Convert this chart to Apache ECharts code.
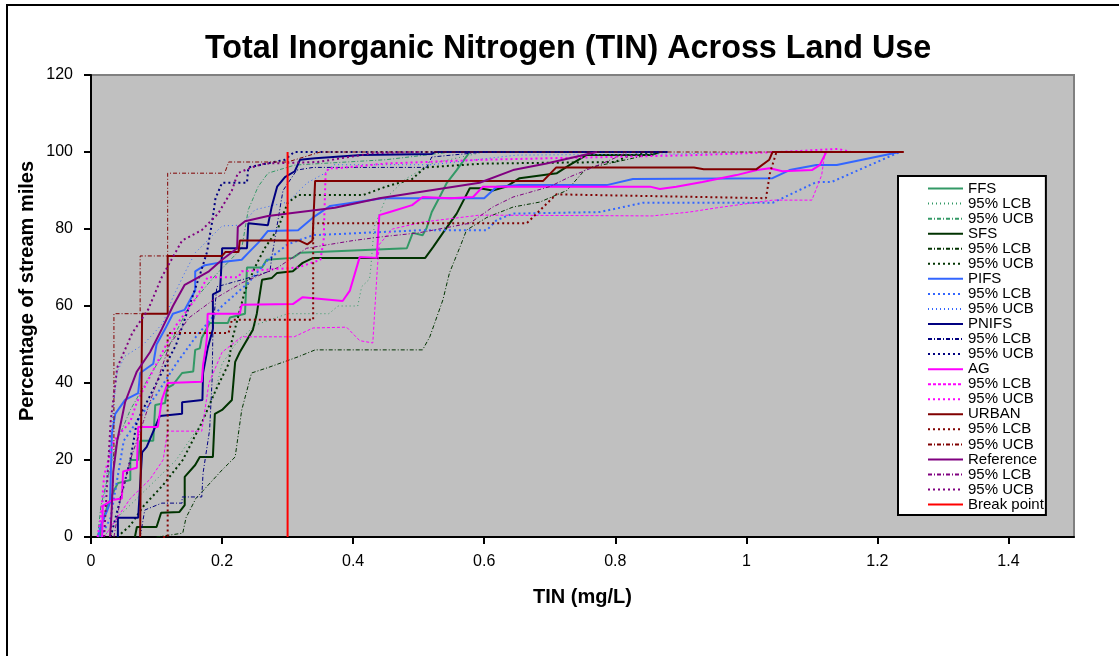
<!DOCTYPE html>
<html>
<head>
<meta charset="utf-8">
<script src="https://cdn.jsdelivr.net/npm/echarts@6/dist/echarts.min.js"></script>
<style>
html, body { margin: 0; padding: 0; background: #fff; }
#chart { width: 1119px; height: 656px; }
</style>
</head>
<body>
<div id="chart"></div>
<script>
// tick labels
const xTicks = [0, 0.2, 0.4, 0.6, 0.8, 1, 1.2, 1.4];
const yTicks = [0, 20, 40, 60, 80, 100, 120];

// CDF curves: [TIN mg/L, % of stream miles]
const ffs = [[0.014,0],[0.016,3],[0.025,8],[0.035,12],[0.041,14],[0.06,14.8],[0.06,20],[0.072,20],[0.075,25],[0.095,25],[0.098,34.3],[0.113,34.8],[0.116,38.7],[0.125,39.5],[0.139,42.6],[0.156,43],[0.159,48.6],[0.166,49],[0.169,51.7],[0.181,55.6],[0.209,55.6],[0.212,57],[0.235,58],[0.238,70],[0.261,70],[0.268,72],[0.308,72.5],[0.319,73.8],[0.482,75],[0.491,79],[0.506,78.4],[0.512,80.2],[0.52,84.4],[0.532,88.3],[0.543,92],[0.558,95.3],[0.578,100]];
const ffsLcb = [[0.02,0],[0.04,5],[0.07,10],[0.1,15],[0.13,20],[0.15,25],[0.17,30],[0.19,38],[0.2,45],[0.22,50],[0.25,55],[0.3,58],[0.363,58],[0.377,60],[0.407,60],[0.413,65],[0.425,67],[0.427,70],[0.432,80.5],[0.45,88],[0.48,93],[0.52,97],[0.6,100]];
const ffsUcb = [[0.01,0],[0.015,8],[0.025,15],[0.04,25],[0.06,33],[0.09,42],[0.12,50],[0.15,60],[0.19,68],[0.23,75],[0.24,85],[0.255,91],[0.27,94.5],[0.311,96.6],[0.35,97],[0.45,98],[0.5,99],[0.55,100]];

const sfs = [[0.067,0],[0.07,2.6],[0.1,2.6],[0.107,6.3],[0.135,6.5],[0.143,8.3],[0.143,15.6],[0.159,18.7],[0.166,20.8],[0.186,20.8],[0.189,32],[0.2,33],[0.215,35.6],[0.22,45.5],[0.227,48],[0.247,53.8],[0.253,58],[0.261,66.8],[0.276,67.3],[0.284,68.6],[0.308,69],[0.323,71.2],[0.339,72.5],[0.51,72.5],[0.522,75.3],[0.537,79],[0.558,84],[0.578,90.6],[0.593,90.6],[0.613,90],[0.634,91],[0.654,93.2],[0.711,94.5],[0.73,96.6],[0.756,99.2],[0.855,99.2],[0.868,100]];
const sfsLcb = [[0.1,0],[0.14,1],[0.145,5],[0.16,10],[0.2,17.4],[0.22,20.8],[0.23,33],[0.245,42.6],[0.27,44],[0.316,46.8],[0.342,48.6],[0.506,48.6],[0.517,52],[0.537,61.6],[0.547,68.6],[0.563,75.3],[0.573,79.7],[0.604,83],[0.644,85.7],[0.685,87],[0.726,90],[0.756,95.8],[0.79,97],[0.87,100]];
const sfsUcb = [[0.04,0],[0.06,3],[0.08,8],[0.11,13.5],[0.14,20],[0.17,30],[0.19,38],[0.21,45],[0.215,51],[0.235,64],[0.25,70],[0.265,75],[0.285,80],[0.3,86.8],[0.316,88.8],[0.415,88.8],[0.45,91],[0.49,93],[0.51,96],[0.6,97],[0.8,97.4],[0.82,99],[0.86,100]];

const pifs = [[0.011,0],[0.015,3],[0.025,7],[0.029,9],[0.032,27],[0.037,32],[0.052,35.6],[0.072,37.4],[0.075,42.6],[0.095,45],[0.1,50],[0.113,54],[0.125,58],[0.143,59],[0.159,64],[0.159,69],[0.174,70.6],[0.2,71.4],[0.23,72],[0.24,73.8],[0.255,76.4],[0.27,79.5],[0.316,79.7],[0.339,83],[0.365,86],[0.445,88],[0.6,88],[0.619,91],[0.654,91.4],[0.787,91.4],[0.827,93],[1.04,93.2],[1.066,95.3],[1.107,96.6],[1.138,96.6],[1.234,100]];
const pifsLcb = [[0.015,0],[0.03,5],[0.04,15],[0.05,25],[0.07,30],[0.1,37],[0.13,45],[0.16,52],[0.2,60],[0.24,66],[0.27,72],[0.3,76],[0.339,78.4],[0.506,79.7],[0.604,79.7],[0.619,82.3],[0.644,84],[0.776,84.4],[0.842,86.8],[1.04,86.8],[1.107,92.2],[1.13,92.2],[1.234,100]];
const pifsUcb = [[0.01,0],[0.02,10],[0.03,25],[0.035,35],[0.04,43],[0.052,47],[0.08,50],[0.11,55.6],[0.125,62.3],[0.143,68.6],[0.159,73.8],[0.2,80.8],[0.23,81],[0.25,85],[0.3,87],[0.33,92],[0.357,94.5],[0.37,96.7],[0.52,96.7],[0.65,99.2],[0.9,99.5],[1.0,100]];

const pnifs = [[0.041,0],[0.041,5],[0.072,5],[0.078,22],[0.085,23.4],[0.105,31.4],[0.139,32],[0.139,35],[0.17,35.6],[0.171,42.6],[0.178,49],[0.186,54],[0.186,63],[0.197,64],[0.2,74],[0.2,75],[0.238,75],[0.24,81.5],[0.27,81],[0.276,86],[0.284,91],[0.296,93.5],[0.311,95],[0.319,98],[0.342,98.4],[0.413,99.2],[0.52,99.5],[0.525,100],[0.88,100]];
const pnifsLcb = [[0.075,0],[0.082,7],[0.108,8.8],[0.139,8.8],[0.139,10.4],[0.169,10.4],[0.171,16.6],[0.181,27.8],[0.185,41.5],[0.186,54],[0.192,65],[0.23,66.8],[0.273,69],[0.276,72.7],[0.285,82],[0.293,90],[0.314,95.3],[0.339,96],[0.512,96],[0.52,98.7],[0.6,100],[0.88,100]];
const pnifsUcb = [[0.03,0],[0.045,10],[0.06,20],[0.07,30],[0.1,40],[0.13,50],[0.15,60],[0.166,68],[0.177,74],[0.185,82],[0.19,88],[0.2,92],[0.238,92],[0.24,96],[0.296,98],[0.31,100],[0.6,100]];

const ag = [[0.017,0],[0.018,8],[0.032,9.6],[0.047,10],[0.049,17],[0.07,18],[0.072,28.6],[0.102,28.6],[0.108,35.6],[0.117,40],[0.169,40.3],[0.171,44.7],[0.175,49],[0.177,52],[0.178,58],[0.227,58],[0.23,60.3],[0.308,60.5],[0.323,62.3],[0.384,61.3],[0.395,64],[0.41,72.7],[0.436,72.5],[0.44,83.6],[0.456,84.4],[0.49,86.2],[0.506,88.3],[0.548,88],[0.583,88.3],[0.598,91],[0.853,91],[0.868,90.4],[0.893,91],[0.933,92.2],[0.985,94],[1.016,95.3],[1.036,95.8],[1.055,95],[1.1,95.3],[1.112,96.6],[1.122,100],[1.125,100]];
const agLcb = [[0.02,0],[0.04,5],[0.06,10],[0.09,15],[0.11,20],[0.117,27.5],[0.169,27.5],[0.18,40],[0.2,48],[0.23,52],[0.31,52],[0.339,54.3],[0.39,54.5],[0.41,51],[0.43,50.4],[0.437,70],[0.44,76],[0.46,80],[0.506,81.8],[0.593,83.6],[0.857,83.4],[0.913,84.4],[0.955,85.5],[1.04,87.5],[1.1,87.5],[1.115,94],[1.12,100]];
const agUcb = [[0.01,0],[0.015,5],[0.02,16],[0.035,25],[0.06,30],[0.07,35],[0.1,45],[0.13,55],[0.16,62],[0.178,67.5],[0.225,67.5],[0.23,69],[0.316,70],[0.35,72],[0.355,77],[0.358,94.5],[0.363,95.8],[0.377,95.8],[0.45,97],[0.6,98],[0.924,99.2],[1.05,100],[1.14,100.8],[1.16,100]];

const urban = [[0.075,0],[0.078,58],[0.117,58],[0.117,73],[0.2,73],[0.205,74],[0.225,74],[0.227,77],[0.318,77],[0.33,76],[0.338,77],[0.342,92.5],[0.69,92.5],[0.71,96],[0.92,96],[0.935,95.5],[1.015,95.5],[1.035,98],[1.04,100],[1.24,100]];
const urbanLcb = [[0.11,0],[0.117,0],[0.117,53],[0.21,53],[0.215,56.4],[0.339,56.4],[0.339,81.5],[0.665,81.5],[0.71,89],[1.03,88],[1.036,94.5],[1.046,100],[1.24,100]];
const urbanUcb = [[0.03,0],[0.035,20],[0.035,58],[0.075,58],[0.075,73],[0.117,73],[0.117,94.5],[0.204,94.5],[0.21,97.4],[0.3,97.4],[0.35,100],[1.24,100]];

const reference = [[0.029,0],[0.031,5],[0.034,17],[0.04,25],[0.052,35],[0.07,43],[0.09,48],[0.108,54],[0.125,60],[0.143,65.5],[0.159,67],[0.18,69],[0.2,72],[0.223,75],[0.224,80.5],[0.235,82],[0.27,83.4],[0.372,85.5],[0.44,88],[0.593,92],[0.644,95.3],[0.695,97],[0.772,100]];
const refLcb = [[0.035,0],[0.045,10],[0.06,20],[0.08,30],[0.1,40],[0.12,50],[0.15,57],[0.19,62],[0.23,66],[0.285,70],[0.329,75],[0.4,77],[0.445,78],[0.5,79],[0.578,81.5],[0.613,85.7],[0.644,88.3],[0.7,91],[0.73,93.5],[0.78,97],[0.82,100]];
const refUcb = [[0.02,0],[0.025,15],[0.03,30],[0.04,44],[0.063,53],[0.087,59],[0.108,67.5],[0.139,77],[0.169,79.7],[0.194,84],[0.215,90],[0.224,94.5],[0.245,96],[0.265,97],[0.346,97.4],[0.43,99.7],[0.5,100]];

const breakPoint = [[0.3,0],[0.3,100]];

const font = '"Liberation Sans", Arial, sans-serif';

// line styles
const solid = { width: 2, type: 'solid' };
const thinDots = { width: 1, type: [1, 3] };
const dashDot = { width: 1, type: [4, 2, 1, 2] };
const squareDots = { width: 2, type: [2, 3] };
const thinDash = { width: 1, type: [3, 2] };

const groups = [
    { name: 'FFS', color: '#339966', main: ffs, lcb: ffsLcb, ucb: ffsUcb, lcbStyle: thinDots, ucbStyle: dashDot },
    { name: 'SFS', color: '#003300', main: sfs, lcb: sfsLcb, ucb: sfsUcb, lcbStyle: dashDot, ucbStyle: squareDots },
    { name: 'PIFS', color: '#3366FF', main: pifs, lcb: pifsLcb, ucb: pifsUcb, lcbStyle: squareDots, ucbStyle: thinDots },
    { name: 'PNIFS', color: '#000080', main: pnifs, lcb: pnifsLcb, ucb: pnifsUcb, lcbStyle: dashDot, ucbStyle: squareDots },
    { name: 'AG', color: '#FF00FF', main: ag, lcb: agLcb, ucb: agUcb, lcbStyle: thinDash, ucbStyle: squareDots },
    { name: 'URBAN', color: '#800000', main: urban, lcb: urbanLcb, ucb: urbanUcb, lcbStyle: squareDots, ucbStyle: dashDot },
    { name: 'Reference', color: '#800080', main: reference, lcb: refLcb, ucb: refUcb, lcbStyle: dashDot, ucbStyle: squareDots }
];

function lineSeries(name, data, color, style) {
    return {
        name: name,
        type: 'line',
        data: data,
        showSymbol: false,
        symbol: 'none',
        color: color,
        lineStyle: { color: color, width: style.width, type: style.type },
        emphasis: { disabled: true },
        z: 2
    };
}

const series = [];
groups.forEach(g => {
    series.push(lineSeries(g.name, g.main, g.color, solid));
    series.push(lineSeries(g.name + ' 95% LCB', g.lcb, g.color, g.lcbStyle));
    series.push(lineSeries(g.name + ' 95% UCB', g.ucb, g.color, g.ucbStyle));
});
series.push(lineSeries('Break point', breakPoint, '#FF0000', solid));

const chart = echarts.init(document.getElementById('chart'));

chart.setOption({
    animation: false,
    backgroundColor: '#fff',
    textStyle: { fontFamily: font },
    title: {
        text: 'Total Inorganic Nitrogen (TIN) Across Land Use',
        left: 205,
        top: 33,
        padding: 0,
        textStyle: { fontSize: 32.3, fontWeight: 'bold', color: '#000', fontFamily: font }
    },
    grid: {
        left: 91,
        top: 75,
        right: 45,
        bottom: 119,
        show: true,
        backgroundColor: '#C0C0C0',
        borderColor: '#808080',
        borderWidth: 2
    },
    legend: {
        orient: 'vertical',
        left: 898,
        top: 176,
        padding: [5, 2, 3, 29],
        itemGap: 0,
        itemWidth: 35,
        itemHeight: 8,
        backgroundColor: '#fff',
        borderColor: '#000',
        borderWidth: 2,
        borderRadius: 0,
        selectedMode: false,
        itemStyle: { opacity: 0 },
        textStyle: { fontSize: 15, lineHeight: 15.05, color: '#000', fontFamily: font },
        formatter: name => name.replace(/^\S+ (?=95%)/, ''),
        data: series.map(s => s.name)
    },
    xAxis: {
        type: 'value',
        min: 0,
        max: 1.5,
        interval: 0.2,
        name: 'TIN (mg/L)',
        nameLocation: 'middle',
        nameGap: 50,
        nameTextStyle: { fontSize: 20, fontWeight: 'bold', color: '#000', fontFamily: font },
        splitLine: { show: false },
        axisLine: { onZero: false, lineStyle: { color: '#000', width: 2 } },
        axisTick: { show: true, length: 7, inside: false, customValues: xTicks, lineStyle: { color: '#000', width: 2 } },
        axisLabel: { customValues: xTicks, fontSize: 16, color: '#000', margin: 17, fontFamily: font }
    },
    yAxis: {
        type: 'value',
        min: 0,
        max: 120,
        interval: 20,
        splitLine: { show: false },
        axisLine: { show: true, lineStyle: { color: '#000', width: 2 } },
        axisTick: { show: true, length: 7, inside: false, customValues: yTicks, lineStyle: { color: '#000', width: 2 } },
        axisLabel: { customValues: yTicks, fontSize: 16, color: '#000', margin: 18, fontFamily: font }
    },
    graphic: [
        {
            type: 'rect',
            shape: { x: 7, y: 5, width: 1300, height: 800 },
            style: { fill: 'none', stroke: '#000', lineWidth: 2 },
            silent: true,
            z: -10
        },
        {
            type: 'text',
            x: 27,
            y: 291,
            rotation: Math.PI / 2,
            style: {
                text: 'Percentage of stream miles',
                fontSize: 20,
                fontWeight: 'bold',
                fontFamily: font,
                fill: '#000',
                textAlign: 'center',
                textVerticalAlign: 'middle'
            },
            silent: true
        }
    ],
    series: series
});

window.addEventListener('resize', () => chart.resize());
</script>
</body>
</html>
